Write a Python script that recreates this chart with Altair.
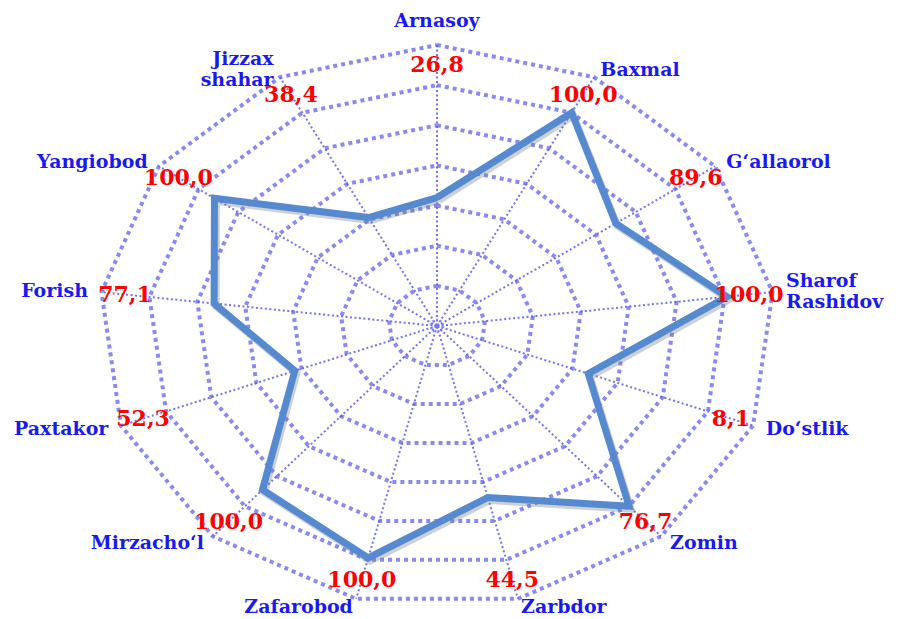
import math
import altair as alt
import pandas as pd

# ---- data ----
categories = ["Arnasoy", "Baxmal", "G‘allaorol", "Sharof\nRashidov", "Do‘stlik", "Zomin",
              "Zarbdor", "Zafarobod", "Mirzacho‘l", "Paxtakor", "Forish", "Yangiobod",
              "Jizzax\nshahar"]
value_labels = ["26,8", "100,0", "89,6", "100,0", "8,1", "76,7", "44,5", "100,0",
                "100,0", "52,3", "77,1", "100,0", "38,4"]
# position of the drawn line on the radial scale (rings every 20, outer ring 140)
line_values = [64, 120, 90, 121, 67, 120, 88, 119, 109, 63, 93, 112, 61]
ring_levels = [20, 40, 60, 80, 100, 120, 140]

# ---- geometry ----
R_MAX = 140
RX, RY = 338, 281          # horizontal / vertical radius of outer ring (px)
W, H = 884, 611
CX, CY = 429, 318          # centre inside plot area
N = len(categories)
LINE_H = 21


def ang(i):
    return 2 * math.pi * i / N


def pos(i, frac, kx=1.0, ky=1.0):
    a = ang(i)
    return RX * frac * kx * math.sin(a), RY * frac * ky * math.cos(a)


rows = []
for lev in ring_levels:
    for j in range(N + 1):
        x, y = pos(j % N, lev / R_MAX)
        rows.append({"ring": lev, "o": j, "x": x, "y": y})
rings = pd.DataFrame(rows)

rows = []
for i in range(N):
    for k, f in enumerate([0.0, 1.0]):
        x, y = pos(i, f)
        rows.append({"spoke": i, "o": k, "x": x, "y": y})
spokes = pd.DataFrame(rows)

rows = []
for j in range(N + 1):
    i = j % N
    x, y = pos(i, line_values[i] / R_MAX)
    rows.append({"o": j, "x": x, "y": y, "cat": categories[i]})
line_df = pd.DataFrame(rows)

rows = []
for i in range(N):
    s = math.sin(ang(i))
    x, y = pos(i, 1.0, 1.04, 1.03)
    al = "center" if abs(s) < 0.2 else ("left" if s > 0 else "right")
    nl = categories[i].count("\n")
    rows.append({"x": x, "y": y, "label": categories[i], "al": al, "multi": nl > 0})
cat_df = pd.DataFrame(rows)

rows = []
for i in range(N):
    x, y = pos(i, 0.93)
    rows.append({"x": x, "y": y, "label": value_labels[i]})
val_df = pd.DataFrame(rows)

center_df = pd.DataFrame({"x": [pos(0, 0)[0]], "y": [pos(0, 0)[1]]})

xs = alt.Scale(domain=[-CX, W - CX], nice=False, zero=False)
ys = alt.Scale(domain=[-(H - CY), CY], nice=False, zero=False)
X = alt.X("x:Q", scale=xs, axis=None)
Y = alt.Y("y:Q", scale=ys, axis=None)

grid_color = "#7474ee"

ring_layer = alt.Chart(rings).mark_line(
    color=grid_color, strokeWidth=4, strokeDash=[4, 4], strokeCap="butt", opacity=0.85
).encode(x=X, y=Y, detail="ring:N", order="o:Q")

spoke_layer = alt.Chart(spokes).mark_line(
    color="#5a5aec", strokeWidth=2, strokeDash=[2, 2.5], opacity=0.85
).encode(x=X, y=Y, detail="spoke:N", order="o:Q")

center_ring = alt.Chart(center_df).mark_point(
    shape="circle", filled=False, size=160, strokeWidth=2, strokeDash=[2, 2], color=grid_color
).encode(x=X, y=Y)
center_dot = alt.Chart(center_df).mark_point(
    shape="circle", filled=True, size=30, color=grid_color, opacity=1
).encode(x=X, y=Y)

shadow = alt.Chart(line_df).mark_line(
    color="#777777", opacity=0.35, strokeWidth=7, strokeJoin="miter", xOffset=2, yOffset=3
).encode(x=X, y=Y, order="o:Q")

main_line = alt.Chart(line_df).mark_line(
    color="#558ad0", strokeWidth=7, strokeJoin="miter"
).encode(x=X, y=Y, order="o:Q")

cat_layers = []
for al, bl, base_dy in [("left", "middle", 0), ("right", "middle", 0), ("center", "bottom", -6)]:
    for multi in [False, True]:
        dy = base_dy - (LINE_H / 2 if multi else 0)
        cat_layers.append(
            alt.Chart(cat_df).transform_filter(
                (alt.datum.al == al) & (alt.datum.multi == multi)
            ).mark_text(
                align=al, baseline=bl, dy=dy, font="DejaVu Serif", fontWeight="bold",
                fontSize=19, color="#1a1aee", lineBreak="\n", lineHeight=LINE_H
            ).encode(x=X, y=Y, text="label:N")
        )

val_layer = alt.Chart(val_df).mark_text(
    align="center", baseline="middle", font="DejaVu Serif", fontWeight="bold",
    fontSize=22, color="#ff0000"
).encode(x=X, y=Y, text="label:N")

chart = alt.layer(
    ring_layer, spoke_layer, center_ring, center_dot, shadow, main_line, val_layer, *cat_layers
).properties(
    width=W, height=H, autosize=alt.AutoSizeParams(type="none"), padding=0
).configure_view(stroke=None)

chart.save("out.html", embed_options={"renderer": "svg", "actions": False})
